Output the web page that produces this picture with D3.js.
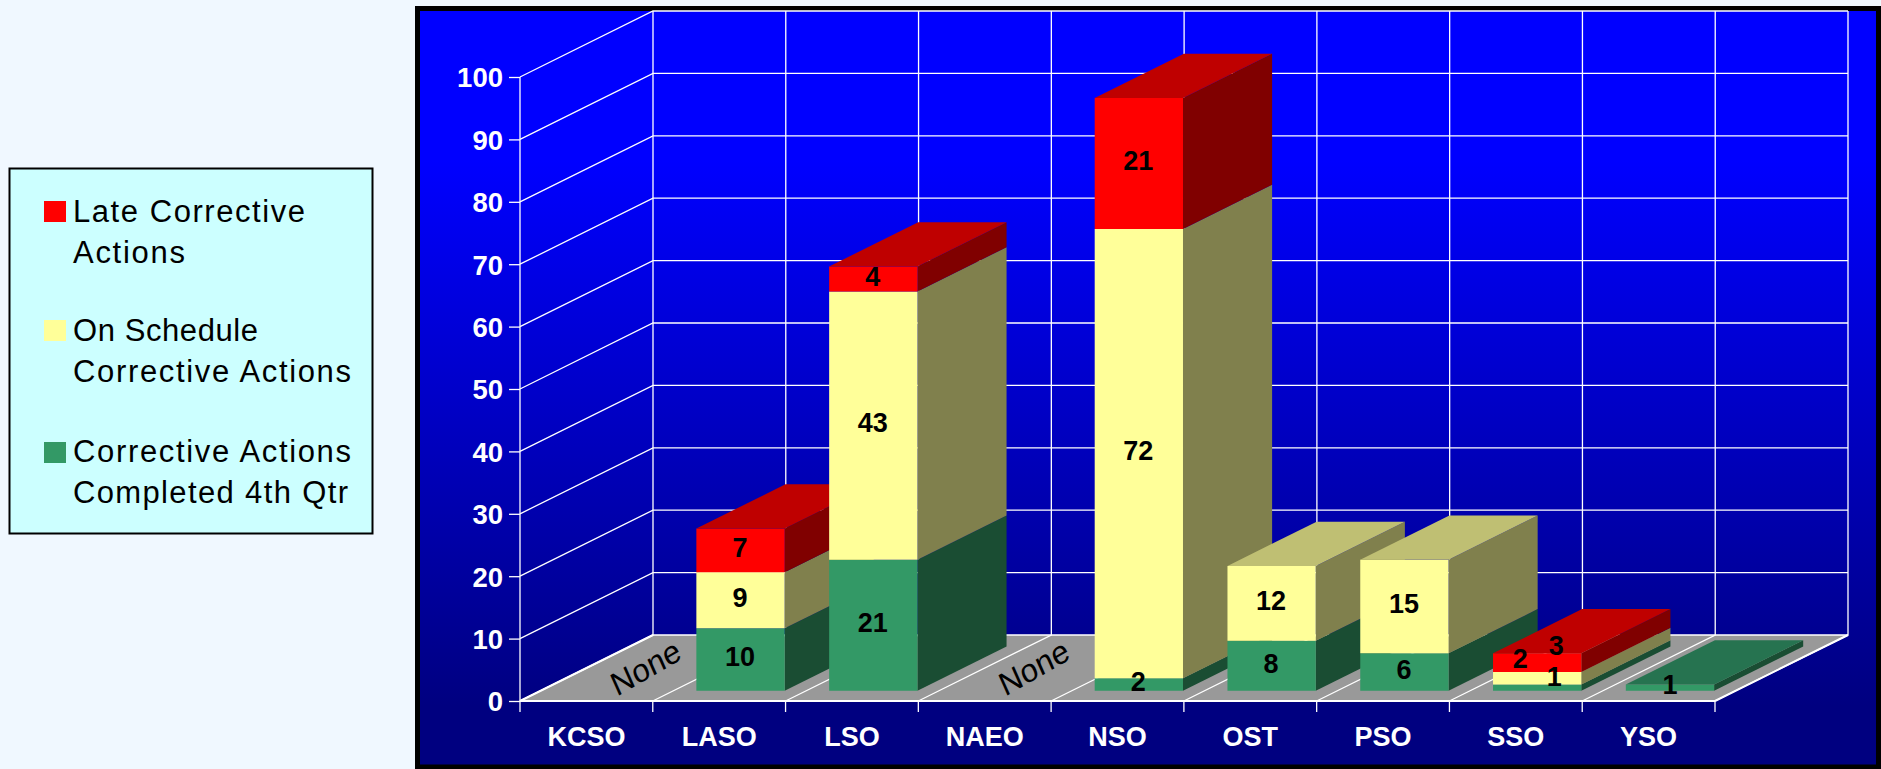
<!DOCTYPE html>
<html><head><meta charset="utf-8">
<script src="https://cdn.jsdelivr.net/npm/d3@7"></script>
<style>html,body{margin:0;padding:0;background:#F0F8FF;overflow:hidden}svg{display:block}text{font-family:"Liberation Sans",Arial,sans-serif}</style>
</head><body><svg id="c" width="1881" height="769"></svg>
<script>
const categories=["KCSO","LASO","LSO","NAEO","NSO","OST","PSO","SSO","YSO"];
const completed=[0,10,21,0,2,8,6,1,1];
const onSchedule=[0,9,43,0,72,12,15,2,0];
const late=[0,7,4,0,21,0,0,3,0];
const emptyCategories=["KCSO","NAEO"];
const yTicks=[0,10,20,30,40,50,60,70,80,90,100];
const legendItems=["Late Corrective|Actions","On Schedule|Corrective Actions","Corrective Actions|Completed 4th Qtr"];
const seriesNames=["completed","onSchedule","late"];

const svg=d3.select("#c");
const defs=svg.append("defs");
const grad=defs.append("linearGradient").attr("id","bg").attr("x1",0).attr("x2",0).attr("y1",0).attr("y2",1);
grad.append("stop").attr("offset",0.2).attr("stop-color","#0000FF");
grad.append("stop").attr("offset",0.92).attr("stop-color","#000080");
svg.append("rect").attr("x",417.5).attr("y",8.5).attr("width",1461).attr("height",758.5).attr("fill","url(#bg)").attr("stroke","#000").attr("stroke-width",5);

const left=520,right=1715,floorY=701,depthX=133,depthY=66;
const x=d3.scaleBand().domain(categories).range([left,right]);
const y=d3.scaleLinear().domain([0,100]).range([floorY,77]);
const step=x.step();
const edges=d3.range(categories.length+1).map(i=>left+i*step);
const line=d3.line();
const G=svg.append("g");
const grid=G.append("g").attr("stroke","#fff").attr("stroke-width",1.3).attr("fill","none");

G.insert("path",":first-child").attr("fill","#999").attr("d",line([[left,floorY],[left+depthX,floorY-depthY],[right+depthX,floorY-depthY],[right,floorY]])+"Z");
yTicks.forEach(v=>{
  grid.append("path").attr("d",line([[left,y(v)],[left+depthX,y(v)-depthY],[right+depthX,y(v)-depthY]]));
});
edges.forEach((e,i)=>{
  grid.append("path").attr("d",line([[e,floorY],[e+depthX,floorY-depthY],[e+depthX,y(100)-depthY]]));
});
grid.append("path").attr("d",line([[left,y(0)],[left,y(100)]]));
grid.append("path").attr("d",line([[left,floorY],[right,floorY]])).attr("stroke-width",2);
grid.append("path").attr("d",line([[right,floorY],[right+depthX,floorY-depthY]])).attr("stroke-width",2);
grid.append("path").attr("d",line([[left,floorY],[left+depthX,floorY-depthY]])).attr("stroke-width",2);
edges.forEach(e=>grid.append("path").attr("d",line([[e,floorY],[e,floorY+11]])));

const yAxis=d3.axisLeft(y).tickValues(yTicks).tickSize(11).tickPadding(6);
const ya=G.append("g").attr("transform",`translate(${left},0)`).call(yAxis);
ya.select(".domain").remove();
ya.selectAll("line").attr("stroke","#fff").attr("stroke-width",1.3);
ya.selectAll("text").attr("fill","#fff").attr("font-size",27.5).attr("font-weight","bold").attr("dy",".36em");

const xAxis=d3.axisBottom(x).tickSize(0).tickPadding(25);
const xa=G.append("g").attr("transform",`translate(0,${floorY})`).call(xAxis);
xa.select(".domain").remove();
xa.selectAll("text").attr("fill","#fff").attr("font-size",27).attr("font-weight","bold").attr("dy",0).attr("y",45);

const colors={completed:["#339966","#267350","#1A4D33"],onSchedule:["#FFFF99","#BFBF73","#80804D"],late:["#FF0000","#BF0000","#800000"]};
const values={completed,onSchedule,late};
const gapX=0.173,barW=0.665,depth0=0.155,depthLen=0.67;
const labelNudge={"SSO:completed":[17,-11],"SSO:onSchedule":[-17,-20],"SSO:late":[19,-17],"YSO:completed":[0,-3]};
const bars=G.append("g"),labels=G.append("g");
categories.forEach((c,i)=>{
  let base=0;
  const x0=x(c)+gapX*step+depth0*depthX, w=barW*step;
  const offY=depth0*depthY, dx=depthLen*depthX, dy=depthLen*depthY;
  seriesNames.forEach(s=>{
    const v=values[s][i]; if(!v) return;
    const yb=y(base)-offY, yt=y(base+v)-offY;
    const [cf,ct,cs]=colors[s];
    bars.append("path").attr("fill",cs).attr("d",line([[x0+w,yb],[x0+w+dx,yb-dy],[x0+w+dx,yt-dy],[x0+w,yt]])+"Z");
    bars.append("path").attr("fill",cf).attr("d",line([[x0,yb],[x0+w,yb],[x0+w,yt],[x0,yt]])+"Z");
    if(base+v===completed[i]+onSchedule[i]+late[i])
      bars.append("path").attr("fill",ct).attr("d",line([[x0,yt],[x0+w,yt],[x0+w+dx,yt-dy],[x0+dx,yt-dy]])+"Z");
    const n=labelNudge[c+":"+s]||[-0.5,-3];
    labels.append("text").attr("x",x0+w/2+n[0]).attr("y",(yb+yt)/2+n[1]).attr("dy",".36em")
      .attr("text-anchor","middle").attr("font-size",27).attr("font-weight","bold").attr("fill","#000").text(v);
    base+=v;
  });
});
const noneNudge={KCSO:59,NAEO:49};
emptyCategories.forEach(c=>{
  labels.append("text").attr("transform",`translate(${x(c)+step/2+noneNudge[c]},667) rotate(-30) skewX(-6)`)
    .attr("text-anchor","middle").attr("dy",".36em").attr("font-size",32).attr("fill","#000").text("None");
});

// legend
svg.append("rect").attr("x",9.5).attr("y",168.5).attr("width",363).attr("height",365).attr("fill","#CCFFFF").attr("stroke","#000").attr("stroke-width",2);
const legendSwatchTop=[201,320,442];
const legendBase=[[222,263],[341,382],[462,503]];
const legendWidths=[[232,112],[185,278],[278,275]];
const legendColors=["#FF0000","#FFFF99","#339966"];
legendItems.forEach((t,i)=>{
  svg.append("rect").attr("x",44).attr("y",legendSwatchTop[i]).attr("width",22).attr("height",21).attr("fill",legendColors[i]);
  t.split("|").forEach((ln,j)=>{
    svg.append("text").attr("x",73).attr("y",legendBase[i][j]).attr("font-size",31).attr("fill","#000")
      .attr("textLength",legendWidths[i][j]).attr("lengthAdjust","spacing").text(ln);
  });
});
</script></body></html>
